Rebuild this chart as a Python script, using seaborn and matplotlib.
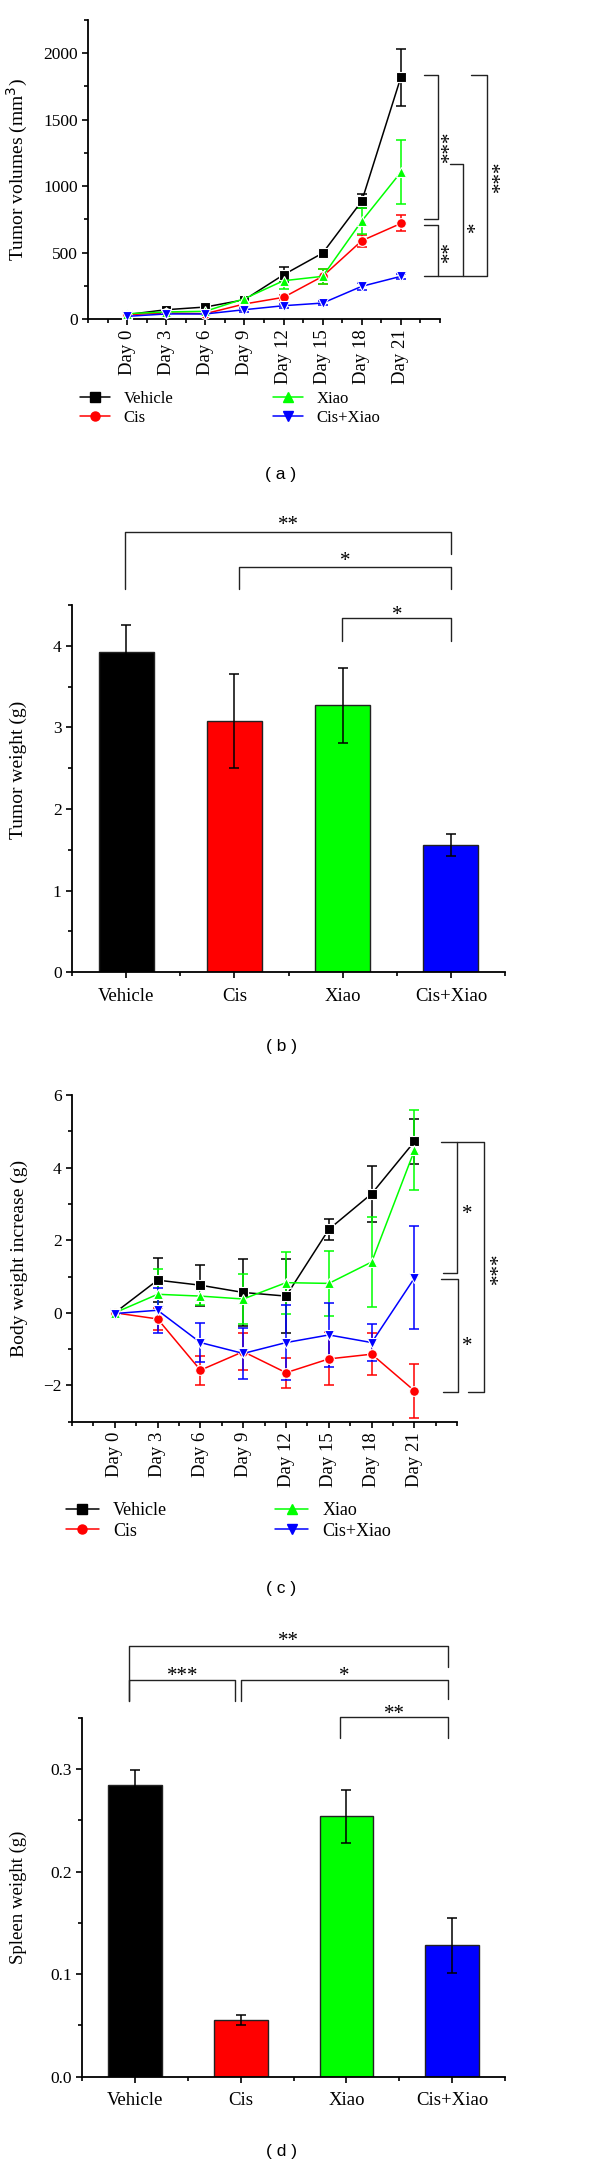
import numpy as np
import pandas as pd
import matplotlib
matplotlib.use("Agg")
import matplotlib.pyplot as plt
import seaborn as sns
from matplotlib.lines import Line2D
from matplotlib.ticker import MultipleLocator, FixedLocator, FormatStrFormatter

# ---------------- data ----------------
days = ["Day 0", "Day 3", "Day 6", "Day 9", "Day 12", "Day 15", "Day 18", "Day 21"]
groups = ["Vehicle", "Cis", "Xiao", "Cis+Xiao"]
colors = ["#000000", "#FF0000", "#00FF00", "#0000FF"]
markers = ["s", "o", "^", "v"]

# (a) tumor volumes (mm3)
vol_vehicle = [33, 70, 90, 145, 333, 496, 887, 1820]
vol_vehicle_err = [10, 15, 15, 20, 55, 20, 55, 215]
vol_cis = [33, 45, 40, 113, 163, 321, 589, 719]
vol_cis_err = [10, 10, 10, 15, 20, 55, 45, 60]
vol_xiao = [40, 53, 58, 153, 288, 321, 737, 1105]
vol_xiao_err = [10, 10, 10, 20, 65, 55, 100, 240]
vol_cisxiao = [20, 38, 38, 70, 100, 120, 246, 321]
vol_cisxiao_err = [5, 10, 10, 15, 15, 15, 25, 20]

# (b) tumor weight (g)
tumor_weight = [3.93, 3.08, 3.27, 1.56]
tumor_weight_err = [0.32, 0.58, 0.46, 0.14]

# (c) body weight increase (g)
bw_vehicle = [0.0, 0.90, 0.76, 0.56, 0.46, 2.30, 3.28, 4.72]
bw_vehicle_err = [0.05, 0.61, 0.57, 0.92, 1.02, 0.29, 0.77, 0.61]
bw_cis = [0.0, -0.17, -1.58, -1.07, -1.65, -1.27, -1.14, -2.15]
bw_cis_err = [0.05, 0.30, 0.40, 0.50, 0.41, 0.73, 0.58, 0.75]
bw_xiao = [0.0, 0.51, 0.46, 0.38, 0.83, 0.81, 1.40, 4.48]
bw_xiao_err = [0.05, 0.70, 0.25, 0.70, 0.85, 0.89, 1.24, 1.10]
bw_cisxiao = [-0.02, 0.07, -0.82, -1.12, -0.82, -0.61, -0.82, 0.96]
bw_cisxiao_err = [0.05, 0.62, 0.54, 0.70, 1.03, 0.87, 0.50, 1.42]

# (d) spleen weight (g)
spleen_weight = [0.284, 0.055, 0.254, 0.128]
spleen_weight_err = [0.015, 0.005, 0.026, 0.027]

# ---------------- style ----------------
sns.set_theme(style="ticks")
plt.rcParams['font.family'] = ['Liberation Serif', 'DejaVu Serif']
plt.rcParams.update({
    "axes.linewidth": 1.3,
    "axes.edgecolor": "black",
    "xtick.color": "black",
    "ytick.color": "black",
    "xtick.direction": "out",
    "ytick.direction": "out",
    "xtick.major.size": 4,
    "ytick.major.size": 4,
    "xtick.minor.size": 3,
    "ytick.minor.size": 3,
    "xtick.major.width": 1.2,
    "ytick.major.width": 1.2,
    "xtick.minor.width": 1.2,
    "ytick.minor.width": 1.2,
    "axes.labelcolor": "black",
    "text.color": "black",
})

W, H = 600, 2167
fig = plt.figure(figsize=(W / 100, H / 100), dpi=100)
fig.patch.set_facecolor("white")
SANS = ["Liberation Sans", "DejaVu Sans"]


def add_ax(l, r, t, b):
    return fig.add_axes([l / W, 1 - b / H, (r - l) / W, (b - t) / H])


def style_ax(ax):
    sns.despine(ax=ax)
    ax.set_facecolor("white")
    ax.tick_params(labelsize=12.5, colors="black")


def line_panel(ax, series, errs):
    x = np.arange(len(days))
    rows = []
    for g, vals in zip(groups, series):
        for xi, v in zip(x, vals):
            rows.append({"x": xi, "value": v, "group": g})
    df = pd.DataFrame(rows)
    for g, vals, e, c in zip(groups, series, errs, colors):
        ax.errorbar(x, vals, yerr=e, fmt="none", ecolor=c, elinewidth=1.1,
                    capsize=3.8, capthick=1.1, zorder=2)
    sns.lineplot(data=df, x="x", y="value", hue="group", style="group",
                 hue_order=groups, style_order=groups,
                 palette=dict(zip(groups, colors)),
                 markers=dict(zip(groups, markers)), dashes=False,
                 markersize=7, markeredgewidth=0.8, linewidth=1.1,
                 ax=ax, legend=False, zorder=3)
    ax.set_xlim(-1, 8)
    ax.xaxis.set_major_locator(FixedLocator(list(x)))
    ax.xaxis.set_minor_locator(FixedLocator([-1, -0.5] + [i + 0.5 for i in x] + [8]))
    ax.set_xticklabels(days, rotation=90)
    ax.set_xlabel("")


def bar_panel(ax, vals, errs):
    sns.barplot(x=groups, y=vals, hue=groups, palette=colors, width=0.51,
                edgecolor="#222222", linewidth=1.0, ax=ax, legend=False,
                saturation=1)
    ax.errorbar(np.arange(len(groups)), vals, yerr=errs, fmt="none",
                ecolor="black", elinewidth=1.1, capsize=3.8, capthick=1.1,
                zorder=5)
    ax.set_xlim(-0.5, 3.5)
    ax.xaxis.set_minor_locator(FixedLocator([-0.5, 0.5, 1.5, 2.5, 3.5]))


def bracket(ax, pts, lw=1.0):
    xs, ys = zip(*pts)
    ax.plot(xs, ys, color="#222222", lw=lw, clip_on=False, zorder=6)


def star(ax, x, y, s, rot=0):
    off = (3.6, 0) if rot else (0, -3.6)
    ax.annotate(s, (x, y), xytext=off, textcoords="offset points",
                ha="center", va="center", fontsize=15, rotation=rot,
                annotation_clip=False)


def legend_handles():
    return [Line2D([0], [0], color=c, marker=m, markersize=6.5, lw=1.1)
            for c, m in zip(colors, markers)]


# ---------------- (a) ----------------
axa = add_ax(88, 440, 20, 319)
line_panel(axa, [vol_vehicle, vol_cis, vol_xiao, vol_cisxiao],
           [vol_vehicle_err, vol_cis_err, vol_xiao_err, vol_cisxiao_err])
axa.set_ylim(0, 2250)
axa.yaxis.set_major_locator(MultipleLocator(500))
axa.yaxis.set_minor_locator(MultipleLocator(250))
axa.set_ylabel("Tumor volumes (mm$^3$)", fontsize=14)
axa.yaxis.set_label_coords(-0.165, 0.5)
style_ax(axa)
axa.tick_params(axis="x", labelsize=13.5)
bracket(axa, [(7.58, 1834), (7.95, 1834), (7.95, 754), (7.58, 754)])
bracket(axa, [(7.58, 709), (7.95, 709), (7.95, 326), (7.58, 326)])
bracket(axa, [(8.26, 1168), (8.6, 1168), (8.6, 326)])
bracket(axa, [(8.79, 1837), (9.2, 1837), (9.2, 326), (7.95, 326)])
star(axa, 8.13, 1298, "***", 90)
star(axa, 8.13, 509, "**", 90)
star(axa, 8.8, 697, "*", 90)
star(axa, 9.44, 1073, "***", 90)

fig.legend(handles=legend_handles(), labels=groups, ncol=2, frameon=False,
           loc="upper left", bbox_to_anchor=(80 / W, 1 - 391 / H),
           fontsize=12, handlelength=1.8, handletextpad=0.8,
           columnspacing=6.0, labelspacing=0.2, borderpad=0, borderaxespad=0)
fig.text(281 / W, 1 - 475 / H, "( a )", ha="center", va="center",
         fontsize=12.5, family=SANS)

# ---------------- (b) ----------------
axb = add_ax(72, 505, 605, 972.3)
bar_panel(axb, tumor_weight, tumor_weight_err)
axb.set_ylim(0, 4.5)
axb.yaxis.set_major_locator(MultipleLocator(1))
axb.yaxis.set_minor_locator(MultipleLocator(0.5))
axb.set_ylabel("Tumor weight (g)", fontsize=14)
axb.yaxis.set_label_coords(-0.105, 0.55)
style_ax(axb)
axb.tick_params(axis="x", labelsize=13.5, pad=7)
bracket(axb, [(-0.01, 4.70), (-0.01, 5.39), (3.0, 5.39), (3.0, 5.13)])
bracket(axb, [(1.04, 4.69), (1.04, 4.97), (3.0, 4.97), (3.0, 4.69)])
bracket(axb, [(1.99, 4.06), (1.99, 4.34), (3.0, 4.34), (3.0, 4.06)])
star(axb, 1.5, 5.53, "**")
star(axb, 2.02, 5.10, "*")
star(axb, 2.5, 4.43, "*")
fig.text(281 / W, 1 - 1046.7 / H, "( b )", ha="center", va="center",
         fontsize=12.5, family=SANS)

# ---------------- (c) ----------------
axc = add_ax(72, 457.3, 1095, 1421.7)
line_panel(axc, [bw_vehicle, bw_cis, bw_xiao, bw_cisxiao],
           [bw_vehicle_err, bw_cis_err, bw_xiao_err, bw_cisxiao_err])
axc.set_ylim(-3, 6)
axc.yaxis.set_major_locator(MultipleLocator(2))
axc.yaxis.set_minor_locator(MultipleLocator(1))
axc.set_ylabel("Body weight increase (g)", fontsize=14)
axc.yaxis.set_label_coords(-0.115, 0.5)
style_ax(axc)
axc.tick_params(axis="x", labelsize=13.5)
bracket(axc, [(7.62, 4.71), (7.99, 4.71), (7.99, 1.11), (7.66, 1.11)])
bracket(axc, [(7.62, 0.93), (8.01, 0.93), (8.01, -2.17), (7.66, -2.17)])
bracket(axc, [(7.99, 4.71), (8.63, 4.71), (8.63, -2.19), (8.24, -2.19)])
star(axc, 8.23, 2.84, "*")
star(axc, 8.23, -0.80, "*")
star(axc, 8.88, 1.22, "***", 90)

fig.legend(handles=legend_handles(), labels=groups, ncol=2, frameon=False,
           loc="upper left", bbox_to_anchor=(66 / W, 1 - 1502 / H),
           fontsize=13, handlelength=1.8, handletextpad=0.8,
           columnspacing=6.0, labelspacing=0.2, borderpad=0, borderaxespad=0)
fig.text(281 / W, 1 - 1588 / H, "( c )", ha="center", va="center",
         fontsize=12.5, family=SANS)

# ---------------- (d) ----------------
axd = add_ax(82.3, 505, 1717.7, 2076.7)
bar_panel(axd, spleen_weight, spleen_weight_err)
axd.set_ylim(0, 0.35)
axd.yaxis.set_major_locator(MultipleLocator(0.1))
axd.yaxis.set_minor_locator(MultipleLocator(0.05))
axd.yaxis.set_major_formatter(FormatStrFormatter("%.1f"))
axd.set_ylabel("Spleen weight (g)", fontsize=13.5)
axd.yaxis.set_label_coords(-0.13, 0.5)
style_ax(axd)
axd.tick_params(axis="x", labelsize=13.5, pad=7)
bracket(axd, [(-0.054, 0.366), (-0.054, 0.420), (2.96, 0.420), (2.96, 0.399)])
bracket(axd, [(-0.054, 0.366), (-0.054, 0.387), (0.947, 0.387), (0.947, 0.366)])
bracket(axd, [(1.0, 0.366), (1.0, 0.387), (2.96, 0.387), (2.96, 0.368)])
bracket(axd, [(1.94, 0.330), (1.94, 0.351), (2.96, 0.351), (2.96, 0.330)])
star(axd, 1.45, 0.429, "**")
star(axd, 0.45, 0.395, "***")
star(axd, 1.98, 0.395, "*")
star(axd, 2.45, 0.358, "**")
fig.text(281 / W, 1 - 2151.7 / H, "( d )", ha="center", va="center",
         fontsize=12.5, family=SANS)

fig.savefig("out.png", dpi=100, facecolor="white")
